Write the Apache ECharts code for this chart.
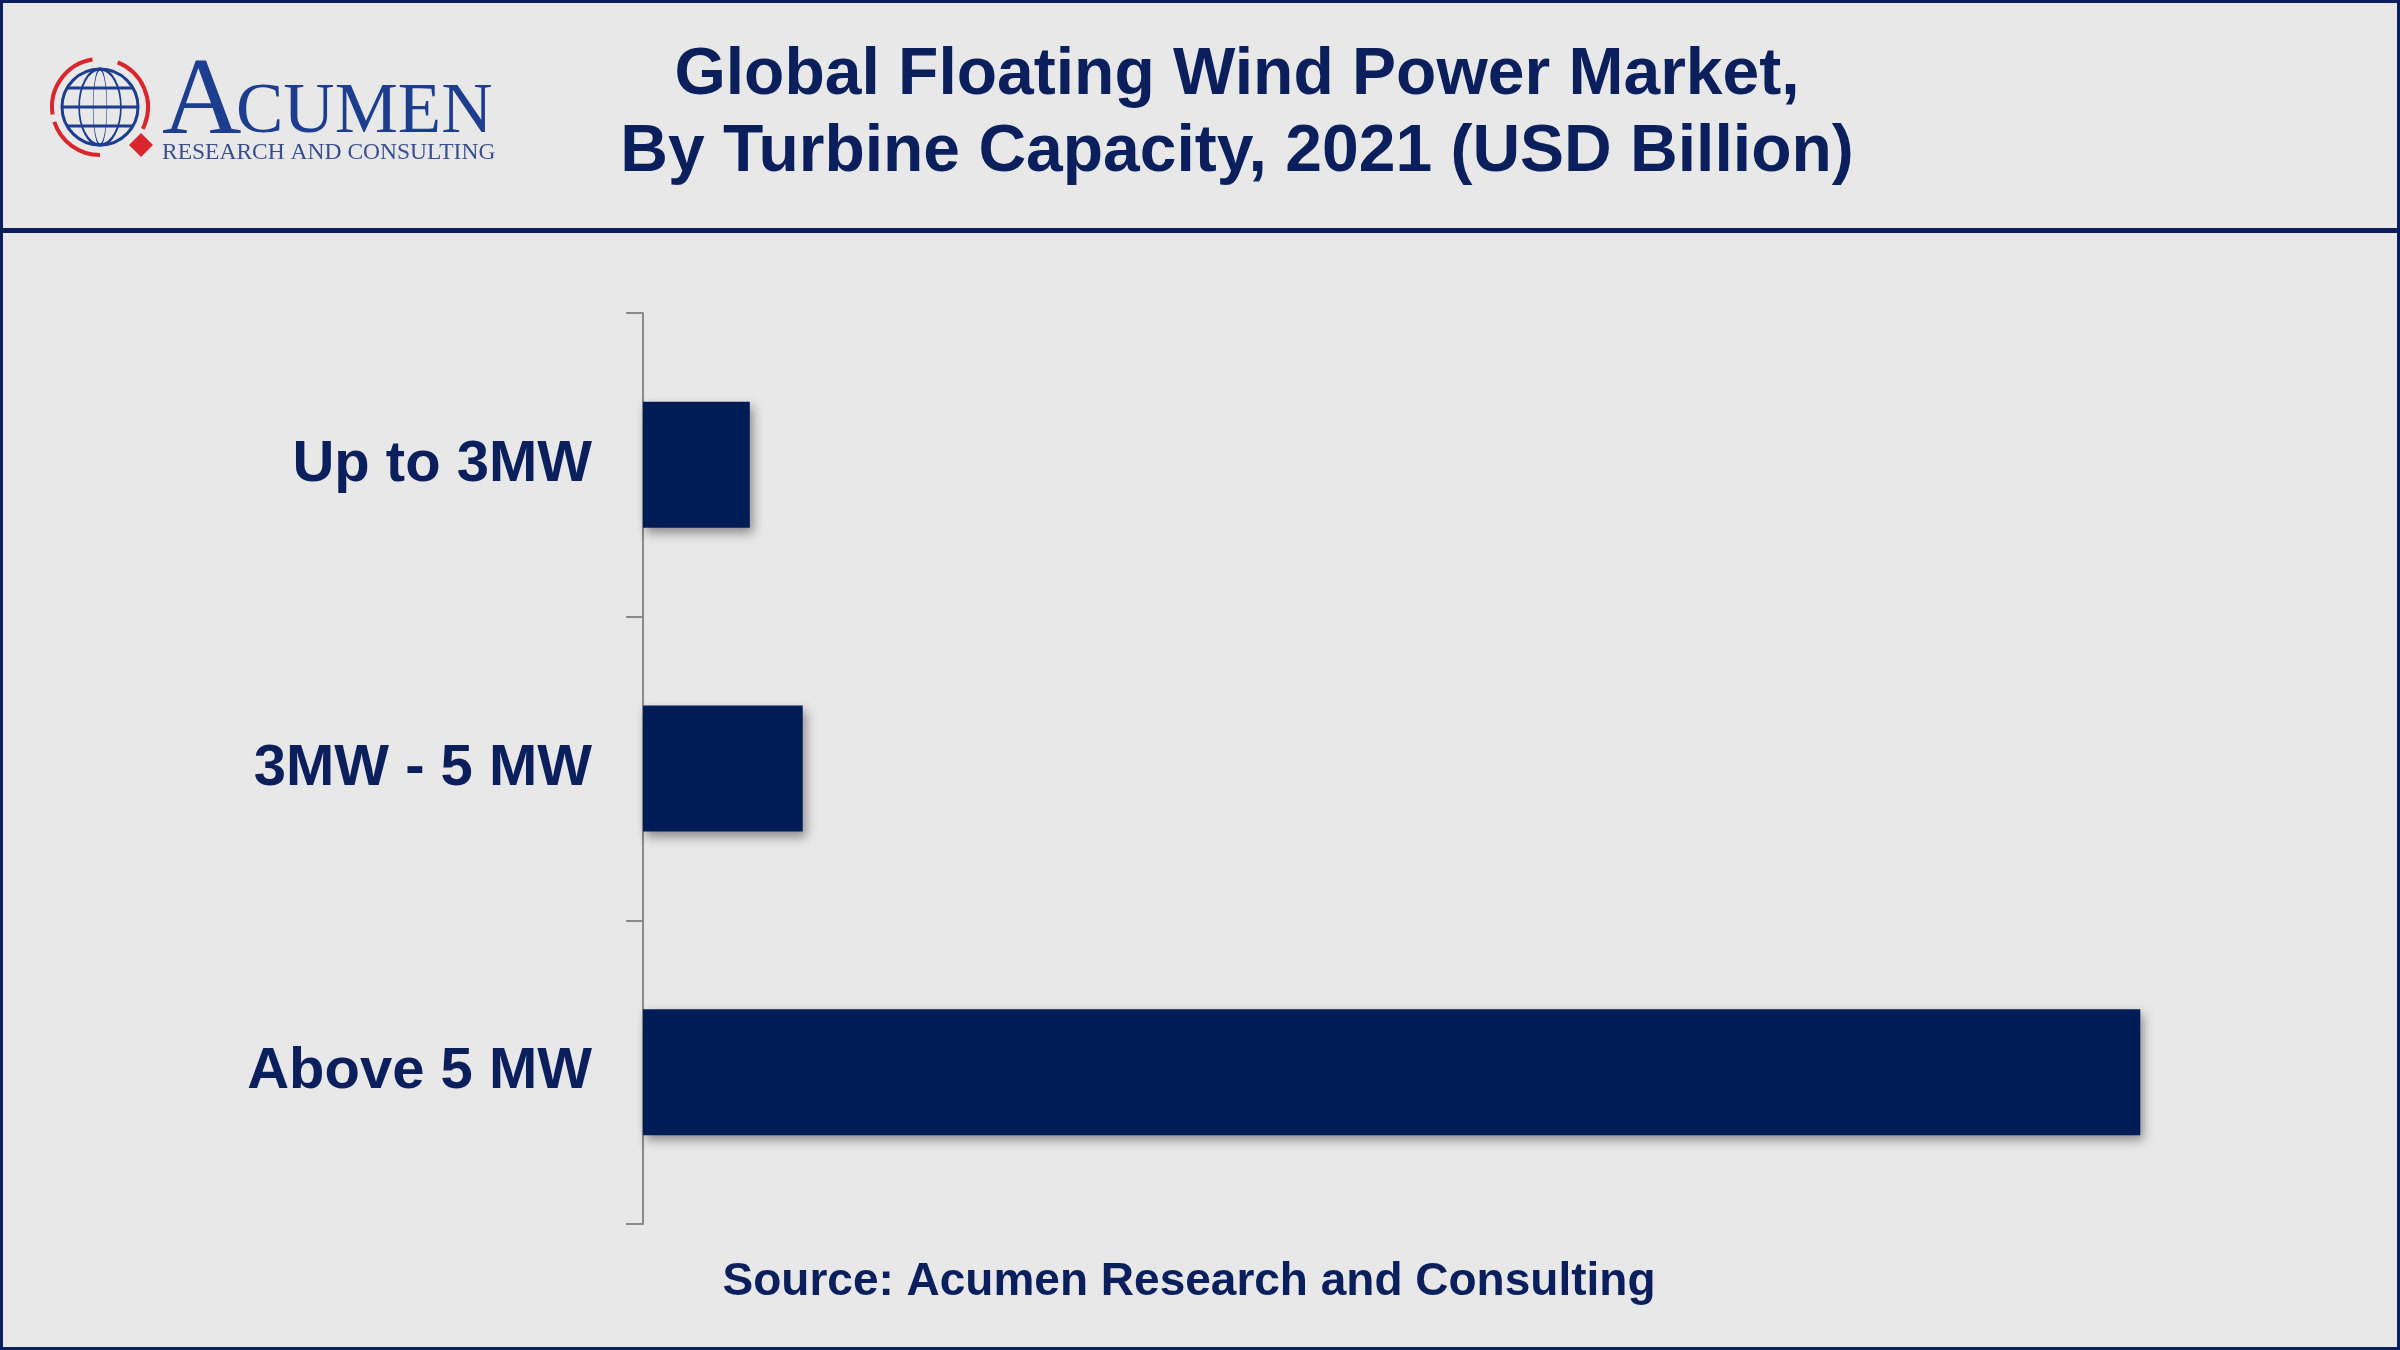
<!DOCTYPE html>
<html>
<head>
<meta charset="utf-8">
<script src="https://cdn.jsdelivr.net/npm/echarts@6/dist/echarts.min.js"></script>
<style>
  html, body { margin: 0; padding: 0; background: #e8e8e8; }
  #chart { width: 2400px; height: 1350px; }
</style>
</head>
<body>
<div id="chart"></div>
<script>
// data
var categories = ['Up to 3MW', '3MW - 5 MW', 'Above 5 MW'];
var values = [0.107, 0.16, 1.5];
var titleLines = ['Global Floating Wind Power Market,', 'By Turbine Capacity, 2021 (USD Billion)'];
var sourceText = 'Source: Acumen Research and Consulting';

var navy = '#0a1f5c';
var barColor = '#001c57';
var red = '#d9262c';

var chart = echarts.init(document.getElementById('chart'));

// globe logo
var gx = 100, gy = 107, gr = 38;
var logo = [
  { type: 'circle', shape: { cx: gx, cy: gy, r: gr }, style: { fill: 'none', stroke: '#1d3d8f', lineWidth: 3 } },
  { type: 'circle', shape: { cx: 0, cy: 0, r: gr }, x: gx, y: gy, scaleX: 0.55, style: { fill: 'none', stroke: '#1d3d8f', lineWidth: 3, strokeNoScale: true } },
  { type: 'circle', shape: { cx: 0, cy: 0, r: gr }, x: gx, y: gy, scaleX: 0.18, style: { fill: 'none', stroke: '#1d3d8f', lineWidth: 3, strokeNoScale: true } },
  { type: 'line', shape: { x1: gx - gr, y1: gy, x2: gx + gr, y2: gy }, style: { stroke: '#1d3d8f', lineWidth: 3 } },
  { type: 'line', shape: { x1: gx - 33, y1: gy - 19, x2: gx + 33, y2: gy - 19 }, style: { stroke: '#1d3d8f', lineWidth: 3 } },
  { type: 'line', shape: { x1: gx - 33, y1: gy + 19, x2: gx + 33, y2: gy + 19 }, style: { stroke: '#1d3d8f', lineWidth: 3 } },
  // red arcs round the globe
  { type: 'arc', shape: { cx: gx, cy: gy, r: 48, startAngle: Math.PI * 0.95, endAngle: Math.PI * 1.45 }, style: { stroke: red, lineWidth: 4, fill: 'none' } },
  { type: 'arc', shape: { cx: gx, cy: gy, r: 48, startAngle: Math.PI * 1.62, endAngle: Math.PI * 2.15 }, style: { stroke: red, lineWidth: 4, fill: 'none' } },
  { type: 'arc', shape: { cx: gx, cy: gy, r: 48, startAngle: Math.PI * 0.5, endAngle: Math.PI * 0.9 }, style: { stroke: red, lineWidth: 4, fill: 'none' } },
  { type: 'polygon', shape: { points: [[141, 133], [153, 145], [141, 157], [129, 145]] }, style: { fill: red } },
  // wordmark
  { type: 'text', x: 162, y: 104, style: { text: 'A', font: '110px "Liberation Serif", serif', fill: '#1d3d8f', verticalAlign: 'middle' } },
  { type: 'text', x: 236, y: 113, style: { text: 'CUMEN', font: '71px "Liberation Serif", serif', fill: '#1d3d8f', verticalAlign: 'middle' } },
  { type: 'text', x: 162, y: 153, style: { text: 'RESEARCH AND CONSULTING', font: '23.5px "Liberation Serif", serif', fill: '#3a4f8f', verticalAlign: 'middle' } }
];

var option = {
  backgroundColor: '#e8e8e8',
  animation: false,
  grid: { left: 643, right: 100, top: 313, bottom: 126, containLabel: false },
  xAxis: {
    type: 'value',
    min: 0,
    max: 1.66,
    show: false,
    splitLine: { show: false }
  },
  yAxis: {
    type: 'category',
    data: categories,
    inverse: true,
    axisLine: { show: true, lineStyle: { color: '#8a8a8a', width: 2 } },
    axisTick: { show: true, length: 17, lineStyle: { color: '#8a8a8a', width: 2 } },
    axisLabel: {
      margin: 51,
      color: navy,
      fontSize: 58,
      fontWeight: 'bold',
      fontFamily: '"Liberation Sans", Arial, sans-serif'
    }
  },
  series: [{
    type: 'bar',
    data: values,
    barWidth: 126,
    itemStyle: {
      color: barColor,
      shadowColor: 'rgba(0,0,0,0.4)',
      shadowBlur: 10,
      shadowOffsetX: 3,
      shadowOffsetY: 5
    }
  }],
  graphic: logo.concat([
    // outer frame
    { type: 'rect', shape: { x: 1.5, y: 1.5, width: 2397, height: 1347 }, style: { fill: 'none', stroke: navy, lineWidth: 3 } },
    // header rule
    { type: 'rect', shape: { x: 0, y: 228, width: 2400, height: 5 }, style: { fill: navy } },
    {
      type: 'text', x: 1237, y: 76,
      style: { text: titleLines[0], font: 'bold 66px "Liberation Sans", Arial, sans-serif', fill: navy, align: 'center', verticalAlign: 'middle' }
    },
    {
      type: 'text', x: 1237, y: 153,
      style: { text: titleLines[1], font: 'bold 66px "Liberation Sans", Arial, sans-serif', fill: navy, align: 'center', verticalAlign: 'middle' }
    },
    {
      type: 'text', x: 1189, y: 1282,
      style: { text: sourceText, font: 'bold 46px "Liberation Sans", Arial, sans-serif', fill: navy, align: 'center', verticalAlign: 'middle' }
    }
  ])
};

chart.setOption(option);
</script>
</body>
</html>
